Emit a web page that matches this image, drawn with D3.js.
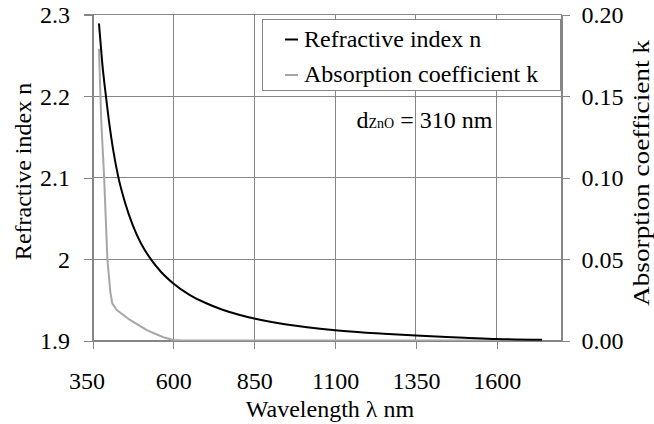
<!DOCTYPE html>
<html>
<head>
<meta charset="utf-8">
<script src="https://cdn.jsdelivr.net/npm/d3@7"></script>
</head>
<body style="margin:0">
<svg id="chart" width="654" height="424"></svg>
<script>
// Refractive index n of the ZnO film versus wavelength (nm)
const wavelengthN = [370, 380, 393, 403, 413, 429, 450, 475, 500, 528, 560, 600, 650, 700, 750, 800, 850, 950, 1100, 1250, 1350, 1500, 1600, 1740];
const refractiveN = [2.289, 2.241, 2.195, 2.163, 2.136, 2.102, 2.070, 2.041, 2.019, 2.001, 1.985, 1.970, 1.956, 1.946, 1.938, 1.932, 1.927, 1.9195, 1.9125, 1.9082, 1.906, 1.9035, 1.9018, 1.9008];

// Absorption coefficient k versus wavelength (nm)
const wavelengthK = [370, 377, 386, 396, 405, 411, 425, 466, 518, 569, 600, 625, 800, 1100, 1400, 1740];
const absorptionK = [0.179, 0.135, 0.100, 0.050, 0.030, 0.0228, 0.0187, 0.0126, 0.0064, 0.0020, 0.0003, 0, 0, 0, 0, 0];

const xTicks = [350, 600, 850, 1100, 1350, 1600];
const nTicks = [1.9, 2.0, 2.1, 2.2, 2.3];
const kTicks = [0, 0.05, 0.10, 0.15, 0.20];

const seriesNames = ["Refractive index n", "Absorption coefficient k"];
const seriesColors = ["#000000", "#a6a6a6"];

const svg = d3.select("#chart");
const plotLeft = 92.5, plotRight = 561.5, plotTop = 14.5, plotBottom = 340.5;
const gridColor = "#868686";
const fontSize = 24;

function textStyle(sel) {
  sel.attr("font-family", "Liberation Serif")
     .style("font-family", '"Liberation Serif"')
     .attr("font-size", fontSize)
     .style("font-size", fontSize + "px")
     .attr("fill", "#000");
}

const x = d3.scaleLinear().domain([350, 1800]).range([plotLeft, plotRight]);
const yN = d3.scaleLinear().domain([1.9, 2.3]).range([plotBottom, plotTop]);
const yK = d3.scaleLinear().domain([0, 0.2]).range([plotBottom, plotTop]);

// Grid lines
const grid = svg.append("g").attr("stroke", gridColor).attr("stroke-width", 1).attr("shape-rendering", "crispEdges");
grid.selectAll("line.v").data(xTicks).join("line").attr("class", "v")
  .attr("x1", d => x(d)).attr("x2", d => x(d)).attr("y1", plotTop).attr("y2", plotBottom);
grid.selectAll("line.h").data(nTicks).join("line").attr("class", "h")
  .attr("x1", plotLeft).attr("x2", plotRight).attr("y1", d => yN(d)).attr("y2", d => yN(d));
grid.append("line").attr("x1", plotRight).attr("x2", plotRight).attr("y1", plotTop).attr("y2", plotBottom);

// Curves
const lineK = d3.line().x((d, i) => x(wavelengthK[i])).y(d => yK(d));
const lineN = d3.line().x((d, i) => x(wavelengthN[i])).y(d => yN(d)).curve(d3.curveMonotoneX);

svg.append("path").datum(absorptionK)
  .attr("d", lineK).attr("fill", "none")
  .attr("stroke", seriesColors[1]).attr("stroke-width", 2).attr("stroke-linejoin", "round");

svg.append("path").datum(refractiveN)
  .attr("d", lineN).attr("fill", "none")
  .attr("stroke", seriesColors[0]).attr("stroke-width", 2).attr("stroke-linejoin", "round");

// Axes
function styleAxis(g) {
  g.attr("font-family", "Liberation Serif").attr("font-size", fontSize);
  g.select(".domain").attr("stroke", gridColor).attr("shape-rendering", "crispEdges");
  g.selectAll(".tick line").attr("stroke", gridColor).attr("shape-rendering", "crispEdges");
  g.selectAll(".tick text").call(textStyle);
}

svg.append("g")
  .attr("transform", `translate(0,${plotBottom})`)
  .call(d3.axisBottom(x).tickValues(xTicks).tickSize(8.5).tickSizeOuter(0).tickFormat(d3.format("d")))
  .call(styleAxis)
  .call(g => g.selectAll(".tick text").attr("y", 48).attr("dy", 0)
    .attr("dx", d => d === 350 ? -6 : 0));

svg.append("g")
  .attr("transform", `translate(${plotLeft},0)`)
  .call(d3.axisLeft(yN).tickValues(nTicks).tickSize(8.5).tickSizeOuter(0).tickFormat(d => String(+d.toFixed(1))))
  .call(styleAxis)
  .call(g => g.selectAll(".tick text").attr("x", -22.5).attr("dy", "0.34em"));

svg.append("g")
  .attr("transform", `translate(${plotRight},0)`)
  .call(d3.axisRight(yK).tickValues(kTicks).tickSize(8.5).tickSizeOuter(0).tickFormat(d3.format(".2f")))
  .call(styleAxis)
  .call(g => g.selectAll(".tick text").attr("x", 20).attr("dy", "0.34em"));

// Top border
svg.append("line").attr("x1", plotLeft - 8.5).attr("x2", plotRight).attr("y1", plotTop).attr("y2", plotTop)
  .attr("stroke", gridColor).attr("shape-rendering", "crispEdges");

// Axis titles
svg.append("text")
  .attr("transform", "translate(31,171.5) rotate(-90)")
  .attr("text-anchor", "middle").call(textStyle)
  .text("Refractive index n");

svg.append("text")
  .attr("transform", "translate(648.5,173) rotate(-90)")
  .attr("text-anchor", "middle").call(textStyle)
  .attr("textLength", 266).attr("lengthAdjust", "spacingAndGlyphs")
  .text("Absorption coefficient k");

svg.append("text")
  .attr("x", 330).attr("y", 416.5)
  .attr("text-anchor", "middle").call(textStyle)
  .text("Wavelength λ nm");

// Legend
const legend = svg.append("g");
legend.append("rect")
  .attr("x", 262.5).attr("y", 19.5).attr("width", 298).attr("height", 71)
  .attr("fill", "#fff").attr("stroke", gridColor).attr("shape-rendering", "crispEdges");
const legendRows = [39.5, 75];
seriesNames.forEach((name, i) => {
  legend.append("line")
    .attr("x1", 285).attr("x2", 298).attr("y1", legendRows[i]).attr("y2", legendRows[i])
    .attr("stroke", seriesColors[i]).attr("stroke-width", 2);
  legend.append("text")
    .attr("x", 304).attr("y", legendRows[i] + 7.3)
    .call(textStyle)
    .text(name);
});

// Film thickness annotation
const note = svg.append("text").attr("x", 356.5).attr("y", 128.3).call(textStyle);
note.append("tspan").text("d");
note.append("tspan").attr("font-size", 14).style("font-size", "14px").text("ZnO");
note.append("tspan").text(" = 310 nm");
</script>
</body>
</html>
